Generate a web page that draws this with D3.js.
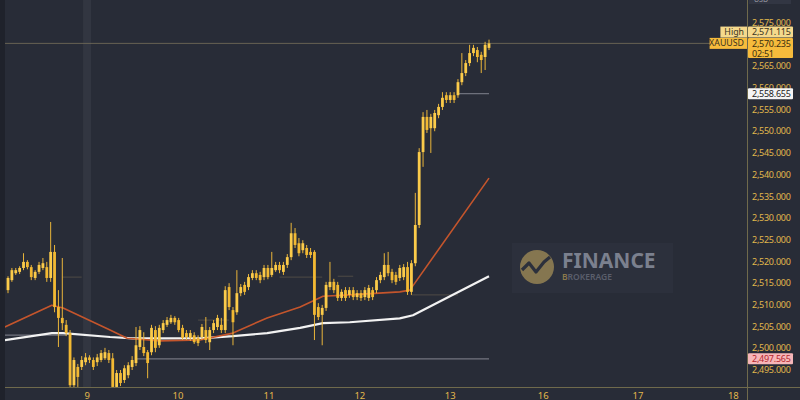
<!DOCTYPE html>
<html><head><meta charset="utf-8">
<script src="https://cdn.jsdelivr.net/npm/d3@7"></script>
<style>html,body{margin:0;padding:0;background:#282c37;overflow:hidden}</style>
</head><body><svg id="c" width="800" height="400"></svg>
<script>
// ---- DATA ----
// hourly candles [open, high, low, close]
const ohlc = [
[2513.4,2516.6,2512.7,2516.2],[2515.7,2518.5,2515.3,2518.0],[2517.3,2518.5,2516.9,2518.0],[2517.6,2518.9,2517.1,2518.5],
[2518.5,2521.9,2518.0,2519.9],[2519.9,2520.3,2518.2,2518.7],[2518.7,2519.2,2515.7,2516.4],[2516.2,2518.0,2515.7,2517.6],
[2517.6,2519.9,2517.1,2519.2],[2518.5,2520.8,2518.0,2519.6],[2518.7,2519.9,2515.3,2516.2],[2516.2,2529.1,2515.3,2522.2],
[2522.2,2523.8,2508.3,2509.5],[2509.5,2513.4,2500.3,2507.0],[2507.0,2520.8,2504.2,2505.8],[2505.4,2506.5,2502.8,2503.5],
[2503.5,2504.2,2490.4,2491.5],[2491.5,2497.9,2490.4,2497.3],[2495.7,2496.4,2491.1,2493.4],[2495.7,2498.2,2495.0,2497.3],
[2496.8,2498.9,2496.1,2497.9],[2497.9,2498.4,2496.6,2497.3],[2497.3,2497.9,2495.0,2495.7],[2496.8,2498.7,2495.9,2497.9],
[2497.3,2499.6,2496.8,2498.9],[2497.7,2500.1,2497.3,2499.1],[2498.9,2499.6,2496.6,2497.3],[2497.7,2498.9,2490.0,2491.1],
[2491.1,2495.0,2490.0,2494.3],[2494.3,2495.0,2491.3,2492.0],[2492.7,2496.1,2492.0,2495.4],[2493.8,2496.8,2493.1,2496.1],
[2495.7,2498.2,2495.0,2497.3],[2496.6,2504.9,2495.9,2500.7],[2500.3,2505.1,2499.6,2504.2],[2500.3,2503.7,2498.2,2498.9],
[2499.1,2499.6,2493.1,2496.6],[2499.1,2505.4,2498.4,2504.7],[2504.2,2505.1,2499.1,2500.1],[2500.7,2505.4,2500.1,2504.7],
[2504.2,2506.5,2503.5,2505.8],[2505.4,2507.2,2504.9,2506.5],[2506.0,2507.7,2505.6,2507.0],[2507.0,2507.4,2505.4,2506.0],
[2506.5,2507.0,2503.7,2504.2],[2504.7,2505.4,2501.9,2502.4],[2503.5,2504.2,2501.9,2502.6],[2502.4,2504.2,2501.7,2503.5],
[2503.0,2503.7,2501.0,2501.4],[2502.4,2503.0,2500.5,2501.2],[2502.6,2505.6,2501.9,2504.9],[2504.2,2507.2,2501.2,2501.9],
[2501.4,2504.9,2499.6,2504.2],[2504.2,2506.5,2503.5,2505.8],[2504.9,2507.7,2504.2,2507.0],[2505.4,2507.0,2503.5,2504.2],
[2504.2,2514.3,2503.5,2513.4],[2514.1,2515.0,2508.8,2509.5],[2508.8,2509.5,2500.7,2506.0],[2508.3,2518.0,2507.7,2512.7],
[2512.7,2514.8,2512.0,2514.1],[2514.6,2515.3,2512.3,2513.0],[2514.1,2517.1,2513.4,2516.4],[2516.2,2518.0,2515.7,2517.3],
[2517.3,2518.0,2515.7,2516.2],[2516.9,2517.6,2515.0,2515.7],[2516.4,2519.2,2515.7,2518.5],[2518.5,2519.2,2515.9,2516.4],
[2516.9,2522.2,2516.4,2518.5],[2518.0,2519.9,2517.6,2519.2],[2519.2,2519.9,2517.3,2518.0],[2517.6,2519.9,2516.9,2519.2],
[2519.2,2521.7,2518.5,2521.0],[2521.0,2528.9,2520.3,2526.5],[2526.5,2527.7,2523.1,2523.8],[2524.2,2525.4,2521.2,2521.9],
[2522.6,2524.9,2521.9,2524.2],[2523.1,2523.8,2520.8,2521.5],[2522.2,2523.1,2520.8,2521.5],[2522.2,2522.6,2501.9,2507.7],
[2509.5,2510.4,2506.5,2507.2],[2507.7,2510.0,2500.7,2509.3],[2509.3,2515.3,2508.6,2514.6],[2514.1,2519.9,2513.4,2515.3],
[2515.3,2516.0,2512.7,2513.4],[2514.6,2515.3,2510.9,2511.6],[2511.6,2513.6,2510.9,2513.0],[2513.4,2514.1,2510.9,2511.6],
[2512.3,2514.1,2511.6,2513.4],[2513.4,2514.1,2511.1,2511.8],[2511.8,2513.4,2511.1,2512.7],[2512.7,2513.4,2510.9,2511.6],
[2511.8,2514.1,2511.1,2513.4],[2511.6,2514.6,2510.9,2513.9],[2513.4,2514.1,2511.1,2511.8],[2513.4,2516.4,2512.7,2515.7],
[2515.7,2517.6,2515.0,2516.9],[2516.4,2521.9,2515.7,2519.2],[2519.2,2522.2,2516.6,2517.3],[2517.6,2518.3,2515.0,2515.7],
[2516.9,2517.6,2514.6,2515.3],[2516.2,2519.2,2515.5,2518.5],[2516.4,2519.4,2515.7,2518.7],[2518.7,2519.9,2512.3,2513.0],
[2513.0,2520.3,2512.3,2519.6],[2519.6,2535.8,2518.9,2528.4],[2528.4,2546.1,2527.7,2545.2],[2545.2,2554.4,2541.8,2553.3],
[2553.3,2554.9,2549.6,2550.3],[2550.7,2554.0,2545.0,2553.3],[2550.7,2554.9,2550.0,2554.2],[2553.7,2556.3,2553.0,2555.6],
[2555.6,2559.0,2554.9,2557.7],[2558.3,2559.0,2556.5,2557.2],[2557.2,2559.0,2556.5,2558.3],[2558.3,2559.0,2556.5,2557.2],
[2558.3,2562.0,2557.7,2561.3],[2561.3,2568.0,2560.6,2563.4],[2563.4,2566.4,2562.7,2565.7],[2565.7,2569.9,2565.0,2568.0],
[2568.0,2569.9,2567.3,2569.2],[2568.7,2569.4,2565.9,2567.1],[2567.6,2568.3,2563.4,2566.4],[2567.1,2570.6,2564.1,2569.9],
[2569.2,2571.1,2568.7,2570.235]
];
const dayLabels = ['9','10','11','12','13','16','17','18'];
const dayIndex  = [20.4, 43.8, 67.3, 90.7, 114, 138, 162.4, 187];
const priceTicks = d3.range(2495, 2575.001, 5);
// moving averages sampled at candle index
const maFastIdx = [-0.8, 11.3, 14.2, 26.3, 30.7, 39.2, 49.5, 58, 66.8, 75.3, 81.2, 88.1, 101, 103.6, 124];
const maFastVal = [2504.9, 2509.9, 2509.3, 2504.2, 2502.3, 2501.7, 2501.9, 2503.5, 2507.0, 2509.5, 2512.0, 2512.3, 2513.0, 2513.4, 2539.2];
const maSlowIdx = [-0.8, 11.3, 14.2, 26.3, 32.2, 49.5, 58, 66.8, 75.3, 81.2, 88.1, 101, 104.4, 124];
const maSlowVal = [2501.9, 2503.5, 2503.5, 2502.6, 2502.3, 2502.3, 2502.8, 2503.5, 2504.7, 2505.8, 2506.0, 2506.9, 2507.6, 2516.6];
// horizontal levels [price, fromIndex, toIndex]
const levels = [[2497.565, 33, 124], [2503.05, -0.8, 15], [2558.655, 116, 124]];
const faintLevels = [[2516.4, 14, 19], [2516.4, 70, 81], [2516.6, 85, 89], [2506.5, 49, 57], [2512.3, 104, 116]];
const symbol = 'XAUUSD', lastPrice = 2570.235, highPrice = 2571.115, countdown = '02:51';
const markPrice = 2558.655, lowPrice = 2497.565;

// ---- DRAW ----
const W = 800, H = 400, L = 5, R = 747, B = 387;
const svg = d3.select('#c');
const font = '"Noto Sans","Open Sans",sans-serif';
const axisCol = '#6f6a4c', labelCol = '#e2b84c';
const x = d3.scaleLinear().domain([0, 124]).range([8, 489]);
const y = d3.scaleLinear().domain([2495, 2575]).range([370, 22.7]);

svg.append('rect').attr('width', W).attr('height', H).attr('fill', '#282c37');
svg.append('rect').attr('width', L).attr('height', H).attr('fill', '#1f222b');

const defs = svg.append('defs');
defs.append('clipPath').attr('id', 'plot').append('rect')
  .attr('x', L).attr('y', 0).attr('width', R - L).attr('height', B);

const g = svg.append('g').attr('clip-path', 'url(#plot)');
// crosshair band
g.append('rect').attr('x', x(dayIndex[0]) - 4).attr('width', 8).attr('y', 0).attr('height', B)
  .attr('fill', '#ffffff').attr('opacity', 0.05);

// last price line
g.append('line').attr('x1', L).attr('x2', R).attr('y1', y(lastPrice)).attr('y2', y(lastPrice))
  .attr('stroke', '#77705a').attr('stroke-width', 1).attr('opacity', 0.8);

faintLevels.forEach(([p, a, b]) => {
  g.append('line').attr('x1', x(a)).attr('x2', x(b)).attr('y1', y(p)).attr('y2', y(p))
    .attr('stroke', '#6a6050').attr('stroke-width', 1).attr('opacity', 0.6);
});
levels.forEach(([p, a, b]) => {
  g.append('line').attr('x1', x(a)).attr('x2', x(b)).attr('y1', y(p)).attr('y2', y(p))
    .attr('stroke', '#8c8e98').attr('stroke-width', 1.2).attr('opacity', 0.75);
});

// watermark
const wm = svg.append('g').attr('transform', 'translate(512,243)');
wm.append('rect').attr('width', 161).attr('height', 50).attr('fill', '#2c303c');
wm.append('circle').attr('cx', 25).attr('cy', 24).attr('r', 17).attr('fill', '#857650');
wm.append('path').attr('d', 'M10,27 L17,20 L24,29 L32,19 L38,14').attr('fill', 'none')
  .attr('stroke', '#2c303c').attr('stroke-width', 3.2).attr('stroke-linejoin', 'round');
wm.append('text').attr('x', 50).attr('y', 25).attr('font-family', font).attr('font-weight', 700)
  .attr('font-size', 21).attr('fill', '#7b808e').text('FINANCE');
const br = wm.append('text').attr('x', 50).attr('y', 37).attr('font-family', font).attr('font-weight', 600)
  .attr('font-size', 8.5).attr('fill', '#5b5f6c');
br.append('tspan').attr('fill', '#8a7a4c').text('B');
br.append('tspan').text('ROKERAGE');

// moving averages
const line = d3.line().curve(d3.curveLinear).x(d => x(d[0])).y(d => y(d[1]));
g.append('path').datum(maSlowIdx.map((v, i) => [v, maSlowVal[i]])).attr('d', line)
  .attr('fill', 'none').attr('stroke', '#f2f2f2').attr('stroke-width', 2.2).attr('stroke-linejoin', 'round');
g.append('path').datum(maFastIdx.map((v, i) => [v, maFastVal[i]])).attr('d', line)
  .attr('fill', 'none').attr('stroke', '#c4552c').attr('stroke-width', 1.6).attr('stroke-linejoin', 'round');

// candles
const cg = g.append('g');
const bw = 2.8;
ohlc.forEach((d, i) => {
  const [o, h, l, c] = d;
  cg.append('line').attr('x1', x(i)).attr('x2', x(i)).attr('y1', y(h)).attr('y2', y(l))
    .attr('stroke', '#e9b53a').attr('stroke-width', 1);
  const top = y(Math.max(o, c)), bot = y(Math.min(o, c));
  cg.append('rect').attr('x', x(i) - bw / 2).attr('width', bw)
    .attr('y', top).attr('height', Math.max(1, bot - top))
    .attr('fill', c >= o ? '#fbcb4a' : '#f2b933');
});

// axes lines
svg.append('line').attr('x1', R + 0.5).attr('x2', R + 0.5).attr('y1', 0).attr('y2', H)
  .attr('stroke', axisCol).attr('stroke-width', 1);
svg.append('line').attr('x1', L).attr('x2', W).attr('y1', B + 0.5).attr('y2', B + 0.5)
  .attr('stroke', axisCol).attr('stroke-width', 1.2);

// price axis labels
const fmt = d3.format(',.3f');
const fs = 9, ls = -0.25;
svg.append('g').selectAll('text').data(priceTicks).join('text')
  .attr('x', 752).attr('y', d => y(d)).attr('dy', '0.35em')
  .attr('font-family', font).attr('font-size', fs).attr('letter-spacing', ls).attr('fill', labelCol)
  .text(d => fmt(d));

// date labels
svg.append('g').selectAll('text').data(dayLabels).join('text')
  .attr('x', (d, i) => x(dayIndex[i])).attr('y', 399).attr('text-anchor', 'middle')
  .attr('font-family', font).attr('font-size', 9.5).attr('fill', labelCol)
  .text(d => d);

// top currency label
svg.append('rect').attr('x', 749).attr('y', -6).attr('width', 42).attr('height', 10).attr('fill', '#323643');
svg.append('text').attr('x', 754).attr('y', 2).attr('font-family', font).attr('font-size', 7)
  .attr('fill', '#9a9ca6').text('USD');

// price tags
function tag(yc, h, bg, fg, lines, name, nameBg) {
  svg.append('rect').attr('x', R + 1).attr('y', yc - 5.5).attr('width', 45).attr('height', h).attr('fill', bg).attr('rx', 1);
  lines.forEach((t, k) => {
    svg.append('text').attr('x', 752).attr('y', yc + k * 10).attr('dy', '0.35em')
      .attr('font-family', font).attr('font-size', fs).attr('letter-spacing', ls).attr('fill', fg).text(t);
  });
  if (name) {
    const nw = name.length * 5.4 + 5;
    svg.append('rect').attr('x', R - nw).attr('y', yc - 5.5).attr('width', nw).attr('height', 11).attr('fill', nameBg);
    svg.append('text').attr('x', R - 3).attr('y', yc).attr('dy', '0.35em').attr('text-anchor', 'end')
      .attr('font-family', font).attr('font-size', 8.8).attr('fill', '#3a3320').text(name);
  }
}
tag(y(markPrice), 11, '#f4f4f4', '#222222', [fmt(markPrice)]);
tag(y(lowPrice), 11, '#f6b6b8', '#b3262e', [fmt(lowPrice)]);
tag(y(lastPrice), 20, '#f6bb3c', '#3a2e10', [fmt(lastPrice), countdown], symbol, '#f6bb3c');
tag(y(highPrice) - 7.5, 11, '#f5d98c', '#3a3320', [fmt(highPrice)], 'High', '#f5d98c');
</script></body></html>
